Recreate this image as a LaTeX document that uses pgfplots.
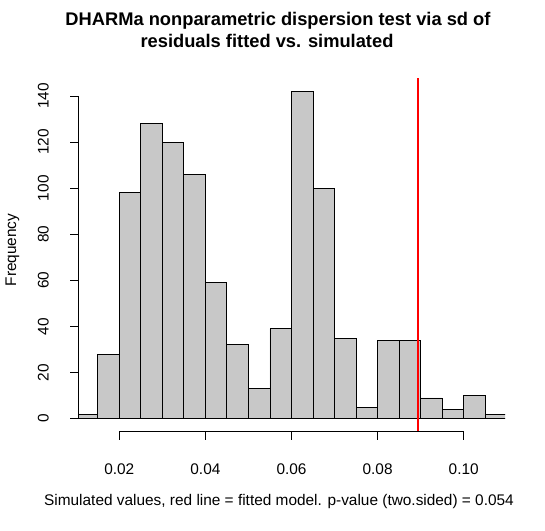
\documentclass[border=0pt]{standalone}
\usepackage{pgfplots}
\pgfplotsset{compat=1.18}
\usepackage{fontspec}
\setmainfont{Liberation Sans}
\definecolor{barfill}{RGB}{200,200,200}
\begin{document}
\begin{tikzpicture}
\path[use as bounding box] (0pt,0pt) rectangle (545pt,530pt);
\begin{axis}[
  at={(78pt,98.2pt)}, anchor=south west,
  scale only axis, width=427pt, height=353.5pt,
  xmin=0.0104, xmax=0.1096, ymin=-5.68, ymax=147.68,
  axis line style={draw=none},
  clip mode=individual,
  tick pos=left, tick align=outside,
  major tick length=8pt,
  tick style={black, line width=0.8pt},
  xtick={0.02,0.04,0.06,0.08,0.10},
  ytick={0,20,40,60,80,100,120,140},
  scaled x ticks=false,
  x tick label as interval=false,
  /pgf/number format/assume math mode=true,
  xticklabel style={font=\fontsize{15.4}{18}\selectfont, anchor=base, yshift=-34.7pt,
    /pgf/number format/.cd, fixed, fixed zerofill, precision=2},
  yticklabel style={font=\fontsize{15.4}{18}\selectfont, xshift=-21.3pt, rotate=90, anchor=base},
]
\addplot[ybar interval, fill=barfill, draw=black, line width=0.9pt] coordinates {
(0.010,2) (0.015,28) (0.020,98) (0.025,128) (0.030,120) (0.035,106) (0.040,59)
(0.045,32) (0.050,13) (0.055,39) (0.060,142) (0.065,100) (0.070,35) (0.075,5)
(0.080,34) (0.085,34) (0.090,9) (0.095,4) (0.100,10) (0.105,2) (0.110,2)};
\addplot[red, line width=2pt] coordinates {(0.0895,-5.68) (0.0895,147.68)};
\draw[black, line width=0.8pt] (axis cs:0.02,-5.68) -- (axis cs:0.10,-5.68);
\draw[black, line width=0.8pt] (axis cs:0.0104,0) -- (axis cs:0.0104,140);
\end{axis}
\node[anchor=base, inner sep=0pt, font=\fontsize{18.3}{22}\selectfont\bfseries] at (278pt,504.7pt) {DHARMa nonparametric dispersion test via sd of};
\node[anchor=base, inner sep=0pt, font=\fontsize{18.3}{22}\selectfont\bfseries] at (267pt,482.3pt) {residuals fitted vs. simulated};
\node[anchor=base, inner sep=0pt, font=\fontsize{15.4}{18}\selectfont] at (279pt,24.3pt) {Simulated values, red line = fitted model. p-value (two.sided) = 0.054};
\node[anchor=base, inner sep=0pt, rotate=90, font=\fontsize{15.4}{18}\selectfont] at (16.2pt,280pt) {Frequency};
\end{tikzpicture}
\end{document}
